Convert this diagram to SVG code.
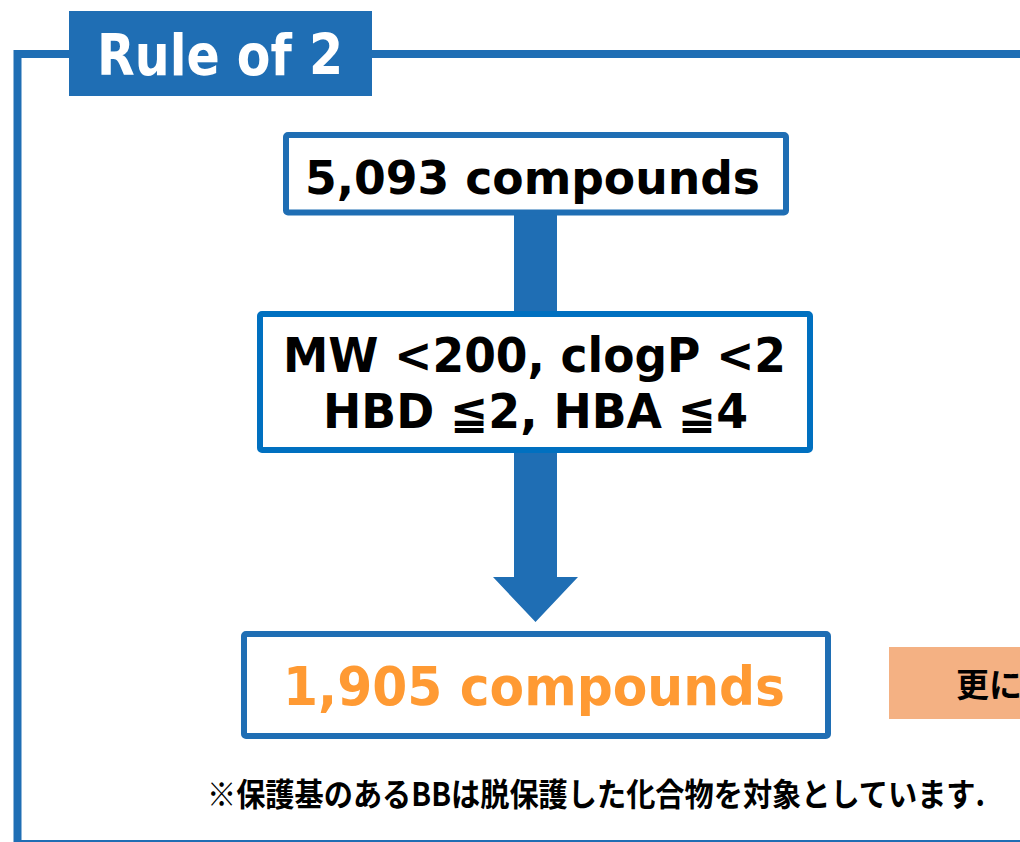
<svg xmlns="http://www.w3.org/2000/svg" width="1020" height="842" viewBox="0 0 1020 842">
<style>
.lat{font-family:"DejaVu Sans","Liberation Sans",sans-serif;font-weight:bold;}
.jp{font-family:"Noto Sans CJK JP","Noto Sans CJK SC",sans-serif;font-weight:bold;}
.box{fill:#ffffff;stroke:#1F6EB4;stroke-width:6;}
.conn{fill:#1F6EB4;}
</style>
<rect width="1020" height="842" fill="#ffffff"/>
<g id="frame">
<rect x="17.5" y="54" width="1060" height="790" fill="none" stroke="#1F6EB4" stroke-width="8"/>
</g>
<g id="title">
<rect x="69" y="11" width="303" height="85" fill="#1F6EB4"/>
<text class="lat" x="97" y="75" font-size="57" fill="#ffffff" textLength="246" lengthAdjust="spacingAndGlyphs">Rule of 2</text>
</g>
<g id="connectors">
<rect class="conn" x="514" y="210" width="43" height="106"/>
<polygon class="conn" points="514,448 557,448 557,577 578,577 535.5,622 493,577 514,577"/>
</g>
<g id="node-start">
<rect class="box" x="286" y="135" width="500" height="77.5" rx="2"/>
<text class="lat" x="305" y="194" font-size="46" fill="#000000" textLength="455" lengthAdjust="spacingAndGlyphs">5,093 compounds</text>
</g>
<g id="node-filter">
<rect class="box" x="260" y="314" width="550" height="136" rx="2" style="stroke:#0070C0"/>
<text class="lat" x="283" y="372" font-size="48" fill="#000000" textLength="503" lengthAdjust="spacingAndGlyphs">MW &lt;200, clogP &lt;2</text>
<text class="lat" x="323" y="428" font-size="48" fill="#000000" textLength="425" lengthAdjust="spacingAndGlyphs">HBD ≦2, HBA ≦4</text>
</g>
<g id="node-result">
<rect class="box" x="244" y="634" width="584" height="102" rx="2"/>
<text class="lat" x="283" y="705" font-size="53" fill="#FF9A33" textLength="502" lengthAdjust="spacingAndGlyphs">1,905 compounds</text>
</g>
<g id="node-note">
<rect x="889" y="647" width="140" height="72" fill="#F4B183"/>
<text class="jp" x="956" y="697" font-size="33" fill="#000000">更に</text>
</g>
<g id="footnote">
<text class="jp" x="207" y="806" font-size="32" fill="#000000" textLength="778" lengthAdjust="spacingAndGlyphs">※保護基のあるBBは脱保護した化合物を対象としています.</text>
</g>
</svg>
